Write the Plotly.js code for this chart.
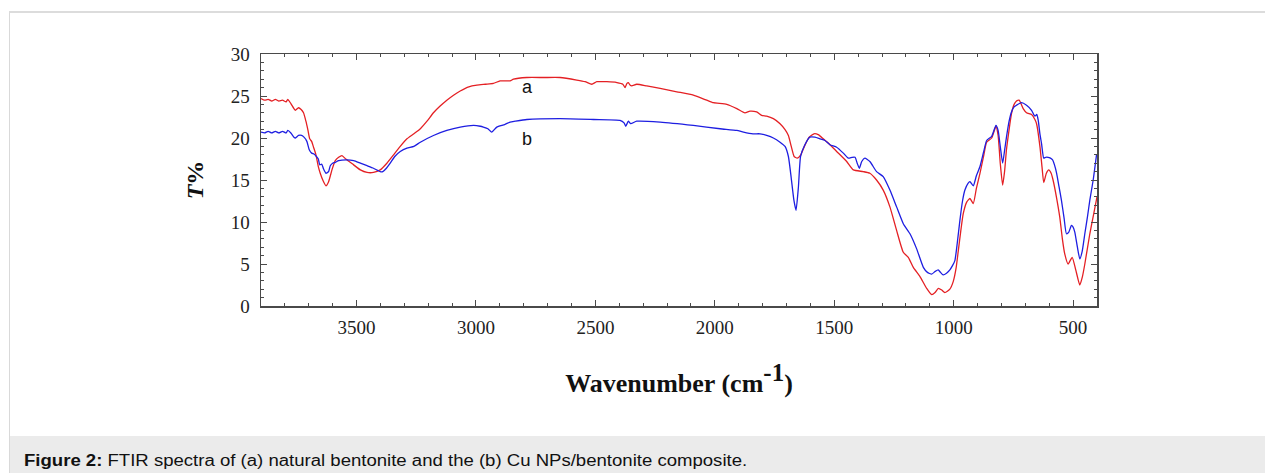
<!DOCTYPE html>
<html>
<head>
<meta charset="utf-8">
<script src="https://cdn.plot.ly/plotly-3.0.1.min.js"></script>
<style>
  html, body { margin: 0; padding: 0; background: #ffffff; }
  #page { position: relative; width: 1265px; height: 473px; overflow: hidden; }
  #frame { position: absolute; left: 9px; top: 11px; width: 1270px; height: 470px;
           border-left: 1px solid #d9d9d9; border-top: 2px solid #dcdcdc; background: #fff; }
  #caption { position: absolute; left: 10px; top: 436px; width: 1260px; height: 40px; background: #ebebeb; }
  #captext { position: absolute; left: 24px; top: 451px; font-family: "Liberation Sans", Arial, sans-serif;
             font-size: 16px; line-height: 20px; color: #111; white-space: nowrap;
             transform: scaleX(1.16); transform-origin: 0 50%; }
  #chart { position: absolute; left: 0; top: 0; width: 1265px; height: 473px; }
</style>
</head>
<body>
<div id="page">
  <div id="frame"></div>
  <div id="caption"></div>
  <div id="captext"><b>Figure 2:</b> FTIR spectra of (a) natural bentonite and the (b) Cu NPs/bentonite composite.</div>
  <div id="chart"></div>
</div>
<script>
// Series (a): natural bentonite
const wavenumberA = [3900,3885,3870,3855,3840,3825,3810,3795,3788,3775,3762,3756,3743,3732,3722,3712,3704,3696,3688,3680,3670,3660,3652,3640,3628,3617,3603,3589,3575,3561,3545,3512,3484,3456,3429,3401,3373,3345,3317,3289,3260,3233,3205,3178,3150,3122,3094,3066,3030,2996,2960,2927,2899,2857,2843,2787,2717,2648,2578,2543,2515,2494,2452,2410,2385,2376,2368,2362,2355,2348,2327,2285,2229,2159,2090,2034,2006,1950,1908,1874,1853,1825,1804,1783,1755,1727,1706,1692,1680,1668,1655,1640,1625,1605,1585,1567,1546,1518,1490,1448,1420,1379,1351,1323,1295,1267,1239,1211,1190,1169,1141,1113,1092,1078,1064,1050,1037,1016,1002,990,981,970,960,945,932,918,905,890,875,862,841,823,814,805,795,787,779,768,758,747,737,726,709,695,674,660,653,639,630,623,612,602,592,584,570,556,545,535,521,504,489,472,461,451,430,415,400];
const transmittanceA = [24.7,24.5,24.6,24.4,24.6,24.4,24.5,24.3,24.6,24.1,23.5,23.3,23.6,23.4,23.0,22.0,21.0,19.9,19.6,18.9,18.0,16.6,15.8,14.9,14.3,14.8,16.2,17.3,17.7,17.9,17.5,16.8,16.2,15.9,15.9,16.2,17.0,18.0,19.0,19.9,20.5,21.1,22.0,23.0,23.8,24.5,25.1,25.6,26.1,26.3,26.4,26.5,26.8,26.8,27.0,27.2,27.2,27.2,26.9,26.7,26.4,26.7,26.7,26.6,26.4,26.0,26.5,26.6,26.3,26.2,26.4,26.2,25.9,25.5,25.1,24.5,24.2,24.0,23.5,23.0,23.2,23.1,22.7,22.6,22.3,21.7,21.0,20.3,19.0,17.8,17.6,18.0,19.0,20.1,20.5,20.4,19.9,19.2,18.4,17.2,16.2,16.0,15.8,15.0,13.8,11.8,9.0,6.4,5.8,4.6,3.5,2.1,1.35,1.6,2.1,1.9,1.6,2.0,2.9,4.5,6.5,9.0,11.0,12.4,12.8,12.2,14.0,15.8,17.8,19.5,20.0,21.4,20.3,17.0,14.4,16.0,18.6,21.0,22.9,24.0,24.4,24.5,23.5,23.0,22.8,22.2,21.7,19.0,16.5,14.7,15.8,16.2,15.8,15.0,13.0,10.6,8.0,6.2,5.0,5.8,4.3,2.5,3.5,5.0,8.6,10.8,13.0];

// Series (b): Cu NPs/bentonite composite
const wavenumberB = [3900,3885,3870,3855,3840,3825,3810,3795,3788,3775,3762,3756,3743,3730,3720,3708,3698,3688,3678,3668,3660,3654,3646,3638,3628,3617,3610,3600,3589,3575,3540,3512,3484,3456,3429,3401,3390,3375,3359,3340,3317,3289,3260,3233,3178,3122,3066,3010,2982,2969,2950,2934,2913,2880,2857,2836,2787,2648,2508,2397,2380,2373,2362,2352,2327,2229,2090,1978,1908,1880,1840,1811,1783,1755,1727,1706,1692,1680,1669,1660,1650,1641,1623,1602,1581,1560,1539,1518,1490,1462,1441,1425,1413,1404,1395,1385,1372,1351,1323,1295,1267,1239,1211,1183,1155,1127,1110,1092,1078,1065,1055,1044,1030,1016,1005,995,985,974,963,953,940,932,918,905,890,875,862,841,823,814,805,795,787,779,768,758,747,737,716,695,674,665,660,652,646,639,632,623,615,605,595,586,578,569,559,549,538,528,518,507,500,493,482,472,462,451,440,430,416,402];
const transmittanceB = [20.7,20.6,20.8,20.6,20.8,20.6,20.8,20.6,20.9,20.6,20.1,20.0,20.3,20.3,20.1,19.6,18.6,18.2,18.1,17.8,17.5,16.8,16.9,16.3,15.8,16.0,16.7,17.0,17.1,17.3,17.4,17.3,17.0,16.7,16.4,16.0,16.0,16.4,17.0,17.8,18.4,18.8,19.0,19.5,20.3,20.9,21.3,21.5,21.4,21.3,21.1,20.7,21.3,21.6,21.9,22.0,22.2,22.3,22.2,22.1,21.8,21.4,22.0,21.7,22.0,21.9,21.5,21.1,20.9,20.7,20.5,20.5,20.3,20.0,19.5,19.0,17.8,15.2,12.6,11.4,14.2,17.8,19.2,20.1,20.1,19.9,19.7,19.2,18.9,18.2,17.6,17.7,17.7,17.0,16.4,17.2,17.6,17.2,16.0,15.4,13.8,11.8,9.8,8.6,6.8,4.6,4.0,3.8,4.1,4.3,4.0,3.7,3.9,4.3,4.8,5.4,7.5,10.2,12.5,13.8,14.6,14.8,14.3,15.5,16.6,18.3,19.7,20.2,21.5,20.9,19.0,17.0,18.5,20.1,22.0,23.1,23.7,23.9,24.2,23.9,23.3,22.8,22.6,22.8,22.1,20.5,19.3,17.6,17.7,17.7,17.6,17.4,16.8,15.8,14.2,12.6,10.5,8.6,8.8,9.6,9.4,8.8,7.0,5.6,6.5,8.6,10.6,12.6,15.0,18.0];

const seriesLabels = ['a', 'b'];
const xTickValues = [3500, 3000, 2500, 2000, 1500, 1000, 500];
const yTickValues = [0, 5, 10, 15, 20, 25, 30];

const serif = '"Liberation Serif", "Times New Roman", serif';

const traces = [
  { x: wavenumberA, y: transmittanceA, name: seriesLabels[0], type: 'scatter', mode: 'lines',
    line: { color: 'rgb(228,32,36)', width: 1.3, shape: 'spline', smoothing: 0.5 } },
  { x: wavenumberB, y: transmittanceB, name: seriesLabels[1], type: 'scatter', mode: 'lines',
    line: { color: 'rgb(30,30,225)', width: 1.3, shape: 'spline', smoothing: 0.5 } }
];

const axisCommon = {
  showline: true, linecolor: '#4a4a4a', linewidth: 1.5, mirror: 'ticks',
  ticks: 'inside', ticklen: 6, tickwidth: 1, tickcolor: '#4a4a4a',
  showgrid: false, zeroline: false,
  tickfont: { family: serif, size: 19, color: '#222' }
};

const layout = {
  width: 1265, height: 473,
  margin: { l: 261, r: 168, t: 54, b: 167 },
  paper_bgcolor: 'rgba(0,0,0,0)', plot_bgcolor: '#ffffff',
  showlegend: false,
  xaxis: Object.assign({}, axisCommon, {
    range: [3900, 400], autorange: false,
    tickmode: 'array', tickvals: xTickValues, ticktext: xTickValues.map(String),
    minor: { dtick: 100, tick0: 0, ticks: 'inside', ticklen: 3, tickcolor: '#4a4a4a', showgrid: false },
    ticklabelstandoff: 4,
    title: { text: '<b>Wavenumber (cm<sup><span style="font-size:25px">-1</span></sup>)</b>',
             font: { family: serif, size: 26, color: '#111' }, standoff: 36 }
  }),
  yaxis: Object.assign({}, axisCommon, {
    range: [0, 30], autorange: false,
    tickmode: 'array', tickvals: yTickValues, ticktext: yTickValues.map(String),
    minor: { dtick: 1, tick0: 0, ticks: 'inside', ticklen: 3, tickcolor: '#4a4a4a', showgrid: false },
    ticklabelstandoff: 6,
    title: { text: '<b><i>T</i>%</b>', font: { family: serif, size: 24, color: '#111' }, standoff: 20 }
  }),
  annotations: [
    { x: 2786, y: 26.07, xref: 'x', yref: 'y', text: seriesLabels[0], showarrow: false,
      font: { family: '"Liberation Sans", Arial, sans-serif', size: 18, color: '#111' } },
    { x: 2786, y: 19.87, xref: 'x', yref: 'y', text: seriesLabels[1], showarrow: false,
      font: { family: '"Liberation Sans", Arial, sans-serif', size: 18, color: '#111' } }
  ]
};

Plotly.newPlot('chart', traces, layout, { staticPlot: true, displayModeBar: false });
</script>
</body>
</html>
